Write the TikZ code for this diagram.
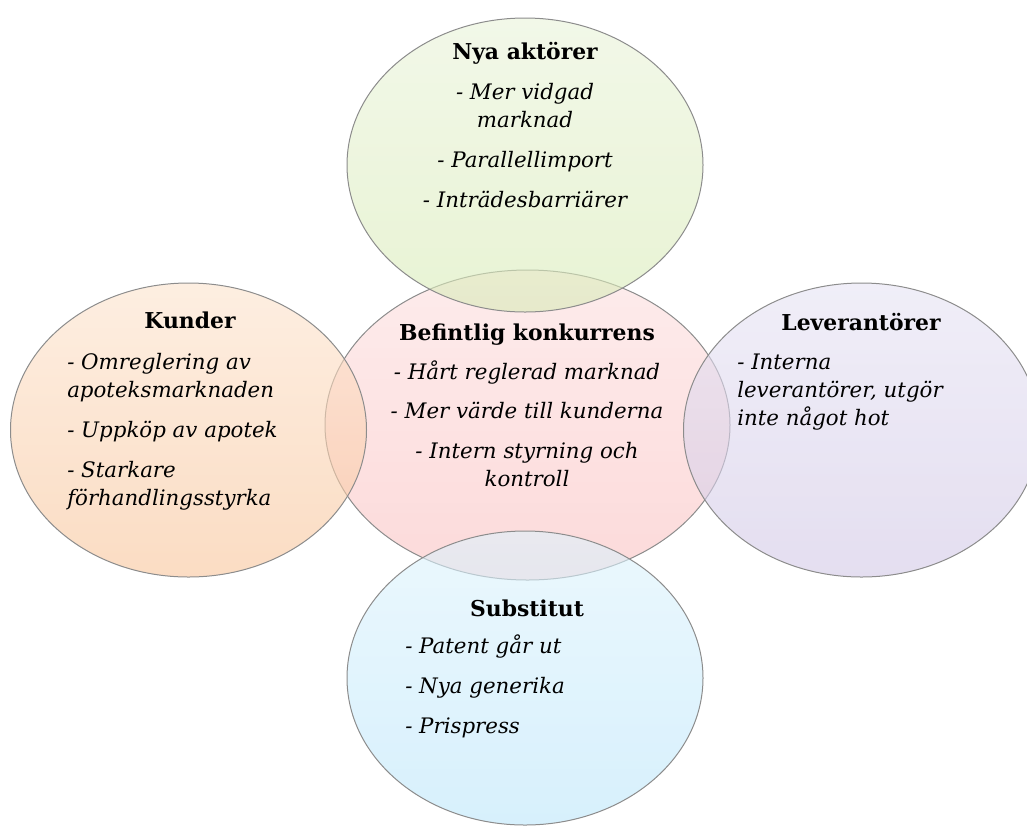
\documentclass[tikz,border=0pt]{standalone}
\usepackage{fontspec}
\setmainfont{DejaVu Serif}
\usetikzlibrary{shapes.geometric}

% soft pastel fills, lighter at the top
\definecolor{rim}{RGB}{140,140,140}
\definecolor{greenA}{RGB}{233,243,217}
\definecolor{greenB}{RGB}{217,235,183}
\definecolor{pinkA}{RGB}{252,223,223}
\definecolor{pinkB}{RGB}{250,193,193}
\definecolor{orangeA}{RGB}{252,227,205}
\definecolor{orangeB}{RGB}{248,197,155}
\definecolor{purpleA}{RGB}{230,227,243}
\definecolor{purpleB}{RGB}{210,200,230}
\definecolor{blueA}{RGB}{222,243,252}
\definecolor{blueB}{RGB}{188,230,250}

\begin{document}
\begin{tikzpicture}[x=0.75pt,y=-0.75pt,
  bubble/.style={ellipse, draw=rim, line width=0.75pt, inner sep=0,
                 fill opacity=0.6, draw opacity=1},
  outer/.style={bubble, minimum width=267pt, minimum height=220.5pt},
  head/.style={font=\fontsize{16.4}{21}\selectfont\bfseries, anchor=base, inner sep=0},
  items/.style={font=\fontsize{16}{21}\selectfont\itshape, inner sep=0},
]
\useasboundingbox (0,0) rectangle (1027,826);

% the five forces
\node[bubble, minimum width=303.75pt, minimum height=232.5pt,
      top color=pinkA, bottom color=pinkB] (core) at (527.5,425) {};
\node[outer, top color=greenA, bottom color=greenB] (entrants) at (525,165) {};
\node[outer, top color=orangeA, bottom color=orangeB] (buyers) at (188.5,430) {};
\node[outer, top color=purpleA, bottom color=purpleB] (suppliers) at (861.5,430) {};
\node[outer, top color=blueA, bottom color=blueB] (substitutes) at (525,678) {};

% entrants (item blocks sit on the baseline of their last line)
\node[head] (entrantsT) at (525,59) {Nya aktörer};
\node[items, align=center, anchor=base] (entrantsL) at (525,207)
  {- Mer vidgad\\marknad\\[9pt]- Parallellimport\\[9pt]- Inträdesbarriärer};

% rivalry
\node[head] (coreT) at (527,340) {Befintlig konkurrens};
\node[items, align=center, anchor=base] (coreL) at (527,486)
  {- Hårt reglerad marknad\\[8pt]- Mer värde till kunderna\\[9pt]- Intern styrning och\\kontroll};

% buyers
\node[head] (buyersT) at (190,328) {Kunder};
\node[items, align=left, anchor=base west] (buyersL) at (67,505)
  {- Omreglering av\\apoteksmarknaden\\[9pt]- Uppköp av apotek\\[9pt]- Starkare\\förhandlingsstyrka};

% suppliers
\node[head] (suppliersT) at (861,330) {Leverantörer};
\node[items, align=left, anchor=base west] (suppliersL) at (737,425)
  {- Interna\\leverantörer, utgör\\inte något hot};

% substitutes
\node[head] (substitutesT) at (527,616) {Substitut};
\node[items, align=left, anchor=base west] (substitutesL) at (405,733)
  {- Patent går ut\\[9pt]- Nya generika\\[9pt]- Prispress};
\end{tikzpicture}
\end{document}
